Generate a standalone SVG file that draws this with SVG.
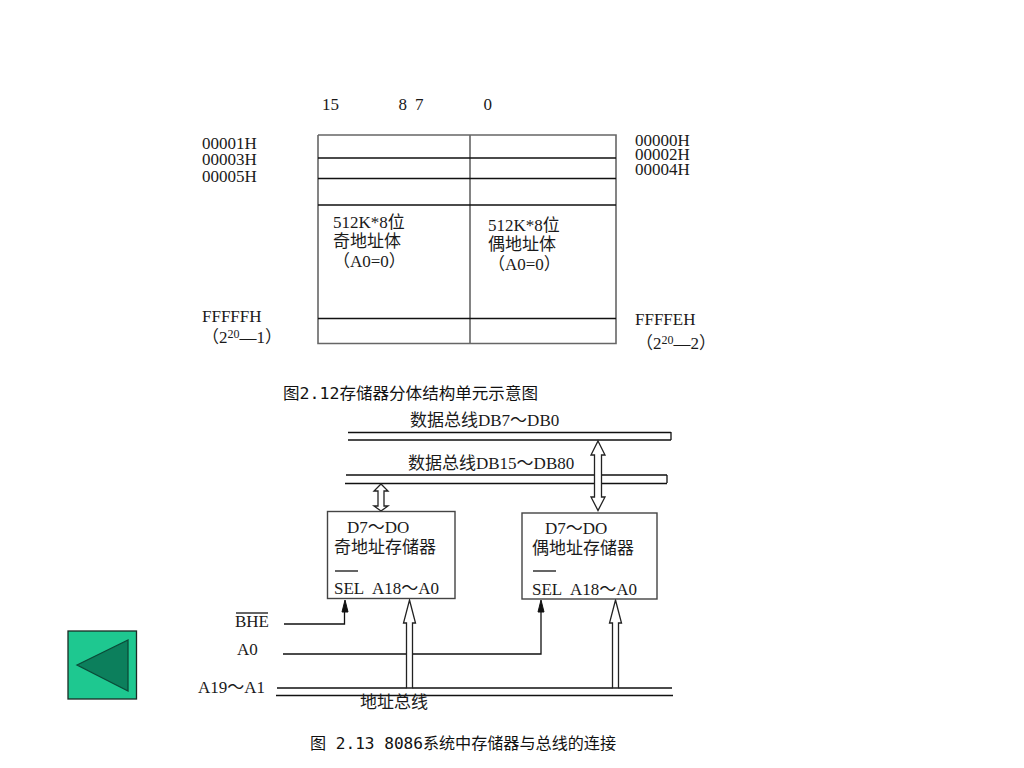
<svg xmlns="http://www.w3.org/2000/svg" width="1024" height="768" viewBox="0 0 1024 768">
<style>
text{font-family:"Liberation Serif","Noto Sans CJK SC",serif;font-size:17px;fill:#1a1a1a}
.cap{font-family:"DejaVu Sans Mono","Noto Sans CJK SC",sans-serif;font-size:16px;fill:#111}
.sup{font-size:12px}
.k{stroke:#111;stroke-width:1.3;fill:none}
.g{stroke:#666;stroke-width:1.6;fill:none}
.box{stroke:#444;stroke-width:1.4;fill:#fff}
.dbl{stroke:#222;stroke-width:1.3;fill:#fff;stroke-linejoin:miter}
</style>
<rect width="1024" height="768" fill="#fff"/>
<g id="memory-table">
<path class="g" d="M318 135V343.500H616V135H318M470 135V343"/>
<path class="k" d="M318 158H616M318 178.500H616M318 205H616M318 318.500H616"/>
</g>
<g id="table-labels">
<text x="322" y="110">15</text><text x="398.500" y="110">8</text><text x="415" y="110">7</text><text x="483.500" y="110">0</text>
<text><tspan x="202" y="149">00001H</tspan><tspan x="202" y="165">00003H</tspan><tspan x="202" y="182">00005H</tspan></text>
<text><tspan x="635" y="146">00000H</tspan><tspan x="635" y="160">00002H</tspan><tspan x="635" y="175">00004H</tspan></text>
<text x="202" y="322">FFFFFH</text>
<text x="202" y="343">（2<tspan class="sup" dy="-5">20</tspan><tspan dy="5">—1）</tspan></text>
<text x="635" y="325">FFFFEH</text>
<text x="636" y="349">（2<tspan class="sup" dy="-5">20</tspan><tspan dy="5">—2）</tspan></text>
<text x="333" y="228">512K*8位</text><text x="333" y="247">奇地址体</text><text x="333" y="267">（A0=0）</text>
<text x="488" y="231">512K*8位</text><text x="488" y="250">偶地址体</text><text x="488" y="270">（A0=0）</text>
</g>
<text class="cap" x="283" y="399" textLength="255" lengthAdjust="spacingAndGlyphs">图2.12存储器分体结构单元示意图</text>
<g id="connectors">
<path class="k" d="M348 432.500H671M348 440H671M671 432V440"/>
<path class="k" d="M346 475H667M345 483.500H667M667 475V483"/>
<path class="dbl" d="M381 484L388 491H384V506H388L381 511L374 506H378V491H374Z"/>
<path class="dbl" d="M598 441L605 455H601.500V497H605L598 510.500L591 497H594.500V455H591Z"/>
<path class="k" d="M284 624H344.500V610"/>
<path d="M345 600L348 612H342Z" fill="#111" stroke="#111"/>
<path class="k" d="M283 654H541V610"/>
<path d="M541 600L544 612H538Z" fill="#111" stroke="#111"/>
<path class="k" d="M277 688H406.500M412.500 688H612.500M618.500 688H672M276 695.500H673"/>
<path class="dbl" d="M409.500 600L415.500 623H412.500V688H406.500V623H403.500Z"/>
<path class="dbl" d="M615.500 600L621.500 623H618.500V688H612.500V623H609.500Z"/>
</g>
<g id="odd-memory">
<rect class="box" x="327.500" y="511.500" width="127.500" height="87"/>
<text x="347" y="533">D7～DO</text><text x="334" y="553">奇地址存储器</text>
<path class="k" d="M335 571H358"/>
<text x="334" y="594">SEL<tspan x="372">A18～A0</tspan></text>
</g>
<g id="even-memory">
<rect class="box" x="522" y="513" width="135" height="86"/>
<text x="545" y="534">D7～DO</text><text x="532" y="554">偶地址存储器</text>
<path class="k" d="M533 571H556"/>
<text x="532" y="595">SEL<tspan x="570">A18～A0</tspan></text>
</g>
<g id="bus-labels">
<text x="410" y="426">数据总线DB7～DB0</text>
<text x="408" y="469">数据总线DB15～DB80</text>
<text x="235" y="627">BHE</text><path class="k" d="M236 613H268"/>
<text x="237" y="655">A0</text>
<text x="198" y="693">A19～A1</text>
<text x="360" y="708">地址总线</text>
</g>
<text class="cap" x="310" y="749" textLength="306" lengthAdjust="spacingAndGlyphs">图 2.13 8086系统中存储器与总线的连接</text>
<g id="back-button">
<rect x="68" y="631" width="68.500" height="68" fill="#1ec890" stroke="#1a2a24" stroke-width="1.300"/>
<path d="M77 665L128 640V691Z" fill="#0c7f5c" stroke="#0b4a38" stroke-width="1.300"/>
</g>
</svg>
